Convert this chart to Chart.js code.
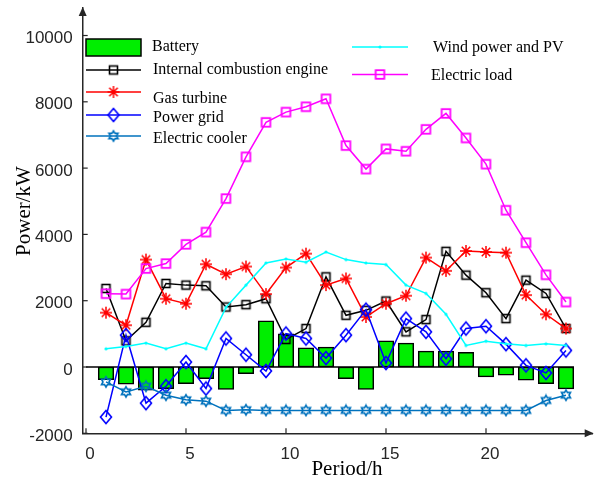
<!DOCTYPE html>
<html><head><meta charset="utf-8">
<script src="https://cdn.jsdelivr.net/npm/chart.js@4/dist/chart.umd.min.js"></script>
<style>html,body{margin:0;padding:0;background:#fff}#wrap{width:599px;height:485px;position:relative}</style>
</head><body><div id="wrap"><canvas id="c" width="599" height="485"></canvas></div>
<script>
const hours = [1,2,3,4,5,6,7,8,9,10,11,12,13,14,15,16,17,18,19,20,21,22,23,24];
const battery = [-380,-520,-700,-650,-500,-350,-680,-200,1390,1000,580,600,-350,-680,790,720,480,480,440,-300,-250,-400,-500,-660];
const iceEngine = [2370,790,1350,2520,2470,2450,1810,1880,2060,830,1160,2720,1560,1710,1990,1060,1430,3490,2770,2240,1460,2620,2220,1160];
const gasTurbine = [1640,1260,3240,2060,1910,3100,2800,3030,2200,3000,3420,2470,2670,1510,1910,2150,3300,2900,3500,3470,3450,2170,1590,1160];
const powerGrid = [-1510,960,-1090,-580,150,-650,860,370,-120,1010,860,270,960,1730,120,1460,1060,250,1160,1230,690,50,-180,500];
const electricCooler = [-450,-750,-580,-850,-990,-1030,-1310,-1290,-1310,-1310,-1310,-1310,-1310,-1310,-1310,-1310,-1310,-1310,-1310,-1310,-1310,-1310,-1010,-850];
const windPV = [550,620,720,550,720,550,1800,2470,3140,3260,3160,3470,3240,3140,3090,2470,2220,1590,650,780,700,650,700,650];
const electricLoad = [2210,2200,2970,3120,3700,4070,5080,6340,7380,7690,7850,8090,6680,5970,6580,6510,7170,7650,6910,6120,4730,3750,2780,1960];
const xTickValues = [0,5,10,15,20];
const yTickValues = [-2000,0,2000,4000,6000,8000,10000];
const seriesNames = ['Battery','Internal combustion engine','Gas turbine','Power grid','Electric cooler','Wind power and PV','Electric load'];
const xTitle = 'Period/h';
const yTitle = 'Power/kW';

function makeMarker(w, h, draw) {
  const c = document.createElement('canvas');
  c.width = w; c.height = h;
  const g = c.getContext('2d');
  draw(g, w / 2, h / 2);
  return c;
}
const sqBlack = makeMarker(13, 13, (g, cx, cy) => { g.strokeStyle = '#000'; g.lineWidth = 1.6; g.strokeRect(cx - 4, cy - 4, 8, 8); });
const sqMag = makeMarker(13, 13, (g, cx, cy) => { g.strokeStyle = '#ff00ff'; g.lineWidth = 1.8; g.strokeRect(cx - 4.3, cy - 4.3, 8.6, 8.6); });
const diamond = makeMarker(16, 18, (g, cx, cy) => {
  g.strokeStyle = '#0000ff'; g.lineWidth = 1.6; g.beginPath();
  g.moveTo(cx, cy - 6.5); g.lineTo(cx + 5.5, cy); g.lineTo(cx, cy + 6.5); g.lineTo(cx - 5.5, cy); g.closePath(); g.stroke();
});
const hexagram = makeMarker(14, 14, (g, cx, cy) => {
  g.strokeStyle = '#0072bd'; g.lineWidth = 1.6; g.beginPath();
  const R = 5.2, r = 5.2 / Math.sqrt(3);
  for (let k = 0; k < 12; k++) {
    const ang = (-90 + 30 * k) * Math.PI / 180;
    const rad = k % 2 === 0 ? R : r;
    const px = cx + rad * Math.cos(ang), py = cy + rad * Math.sin(ang);
    if (k === 0) g.moveTo(px, py); else g.lineTo(px, py);
  }
  g.closePath(); g.stroke();
});
const asterisk = makeMarker(16, 16, (g, cx, cy) => {
  g.strokeStyle = '#ff0000'; g.lineWidth = 1.5; g.beginPath();
  for (let k = 0; k < 4; k++) {
    const ang = k * Math.PI / 4;
    g.moveTo(cx - 6 * Math.cos(ang), cy - 6 * Math.sin(ang));
    g.lineTo(cx + 6 * Math.cos(ang), cy + 6 * Math.sin(ang));
  }
  g.stroke();
});
const dot = makeMarker(6, 6, (g, cx, cy) => { g.fillStyle = '#00ffff'; g.beginPath(); g.arc(cx, cy, 1.6, 0, Math.PI * 2); g.fill(); });

const pts = arr => hours.map((h, i) => ({ x: h, y: arr[i] }));
function lineDS(i, arr, color, marker, order) {
  return { type: 'line', label: seriesNames[i], data: pts(arr), borderColor: color, borderWidth: 1.5,
    pointStyle: marker, pointRadius: 4, pointHoverRadius: 4, fill: false, tension: 0, order: order, clip: false };
}
const datasets = [
  { type: 'bar', label: seriesNames[0], data: pts(battery), backgroundColor: '#00ee00', borderColor: '#000',
    borderWidth: 1.5, borderSkipped: false, barThickness: 15.5, order: 20 },
  lineDS(1, iceEngine, '#000000', sqBlack, 7),
  lineDS(2, gasTurbine, '#ff0000', asterisk, 6),
  lineDS(3, powerGrid, '#0000ff', diamond, 5),
  lineDS(4, electricCooler, '#0072bd', hexagram, 4),
  lineDS(5, windPV, '#00ffff', dot, 3),
  lineDS(6, electricLoad, '#ff00ff', sqMag, 2)
];

const decor = {
  id: 'decor',
  beforeDatasetsDraw(chart) {
    const { ctx, scales: { x, y } } = chart;
    ctx.save();
    ctx.strokeStyle = '#000'; ctx.lineWidth = 1.5;
    const y0 = y.getPixelForValue(0);
    ctx.beginPath(); ctx.moveTo(x.getPixelForValue(0), y0); ctx.lineTo(x.getPixelForValue(24.4), y0); ctx.stroke();
    ctx.restore();
  },
  afterDraw(chart) {
    const { ctx, chartArea: a, scales: { x, y } } = chart;
    ctx.save();
    ctx.strokeStyle = '#262626'; ctx.lineWidth = 1.2;
    yTickValues.forEach(v => { const py = y.getPixelForValue(v); ctx.beginPath(); ctx.moveTo(a.left, py); ctx.lineTo(a.left + 5, py); ctx.stroke(); });
    xTickValues.forEach(v => { const px = x.getPixelForValue(v); ctx.beginPath(); ctx.moveTo(px, a.bottom); ctx.lineTo(px, a.bottom - 5); ctx.stroke(); });
    ctx.fillStyle = '#262626';
    ctx.beginPath(); ctx.moveTo(a.right + 1, a.bottom); ctx.lineTo(a.right - 8, a.bottom - 4); ctx.lineTo(a.right - 8, a.bottom + 4); ctx.closePath(); ctx.fill();
    ctx.beginPath(); ctx.moveTo(a.left, a.top - 1); ctx.lineTo(a.left - 4, a.top + 8); ctx.lineTo(a.left + 4, a.top + 8); ctx.closePath(); ctx.fill();

    ctx.fillStyle = '#000'; ctx.textAlign = 'center'; ctx.textBaseline = 'middle';
    ctx.font = '21px "Liberation Serif"';
    ctx.fillText(xTitle, 347, 469);
    ctx.save(); ctx.translate(24, 211); ctx.rotate(-Math.PI / 2); ctx.fillText(yTitle, 0, 0); ctx.restore();

    // legend
    ctx.font = '16px "Liberation Serif"'; ctx.textAlign = 'left';
    ctx.fillStyle = '#00ee00'; ctx.fillRect(86, 39, 55, 17);
    ctx.strokeStyle = '#000'; ctx.lineWidth = 1.5; ctx.strokeRect(86, 39, 55, 17);
    ctx.fillStyle = '#000'; ctx.fillText(seriesNames[0], 152, 47);
    const left = [[1, 70, 70], [2, 92, 98.5], [3, 115, 118], [4, 136, 139]];
    const right = [[5, 47, 47.5], [6, 74.5, 75.5]];
    const drawEntry = (i, x1, x2, ly, tx, ty) => {
      const ds = chart.data.datasets[i];
      ctx.strokeStyle = ds.borderColor; ctx.lineWidth = 1.5;
      ctx.beginPath(); ctx.moveTo(x1, ly); ctx.lineTo(x2, ly); ctx.stroke();
      const m = ds.pointStyle; const cx = (x1 + x2) / 2;
      ctx.drawImage(m, cx - m.width / 2, ly - m.height / 2);
      ctx.fillStyle = '#000'; ctx.fillText(ds.label, tx, ty);
    };
    left.forEach(([i, ly, ty]) => drawEntry(i, 86, 141, ly, 153, ty));
    right.forEach(([i, ly, ty], k) => drawEntry(i, 352, 408, ly, k === 0 ? 433 : 431, ty));
    ctx.restore();
  }
};

new Chart(document.getElementById('c'), {
  type: 'bar',
  data: { datasets },
  options: {
    responsive: false, animation: false, devicePixelRatio: 1,
    layout: { padding: { top: 8, right: 6.3, left: 0, bottom: 0 } },
    plugins: { legend: { display: false }, tooltip: { enabled: false } },
    scales: {
      x: {
        type: 'linear', min: -0.165, max: 25.335, offset: false, bounds: 'data',
        afterBuildTicks: s => { s.ticks = xTickValues.map(v => ({ value: v })); },
        afterFit: s => { s.height = 51.7; s.paddingLeft = 0; s.paddingRight = 0; },
        grid: { display: false, drawTicks: false, offset: false },
        border: { display: true, color: '#262626', width: 1.5 },
        ticks: { font: { family: 'Liberation Sans', size: 17 }, color: '#262626', padding: 11, labelOffset: 4, maxRotation: 0, autoSkip: false,
          callback: v => String(v) }
      },
      y: {
        type: 'linear', min: -2000, max: 10830,
        afterBuildTicks: s => { s.ticks = yTickValues.map(v => ({ value: v })); },
        afterFit: s => { s.width = 82.7; s.paddingTop = 0; s.paddingBottom = 0; },
        grid: { display: false, drawTicks: false },
        border: { display: true, color: '#262626', width: 1.5 },
        ticks: { font: { family: 'Liberation Sans', size: 17 }, color: '#262626', padding: 10, labelOffset: 3, autoSkip: false,
          callback: v => String(v) }
      }
    }
  },
  plugins: [decor]
});
</script></body></html>
